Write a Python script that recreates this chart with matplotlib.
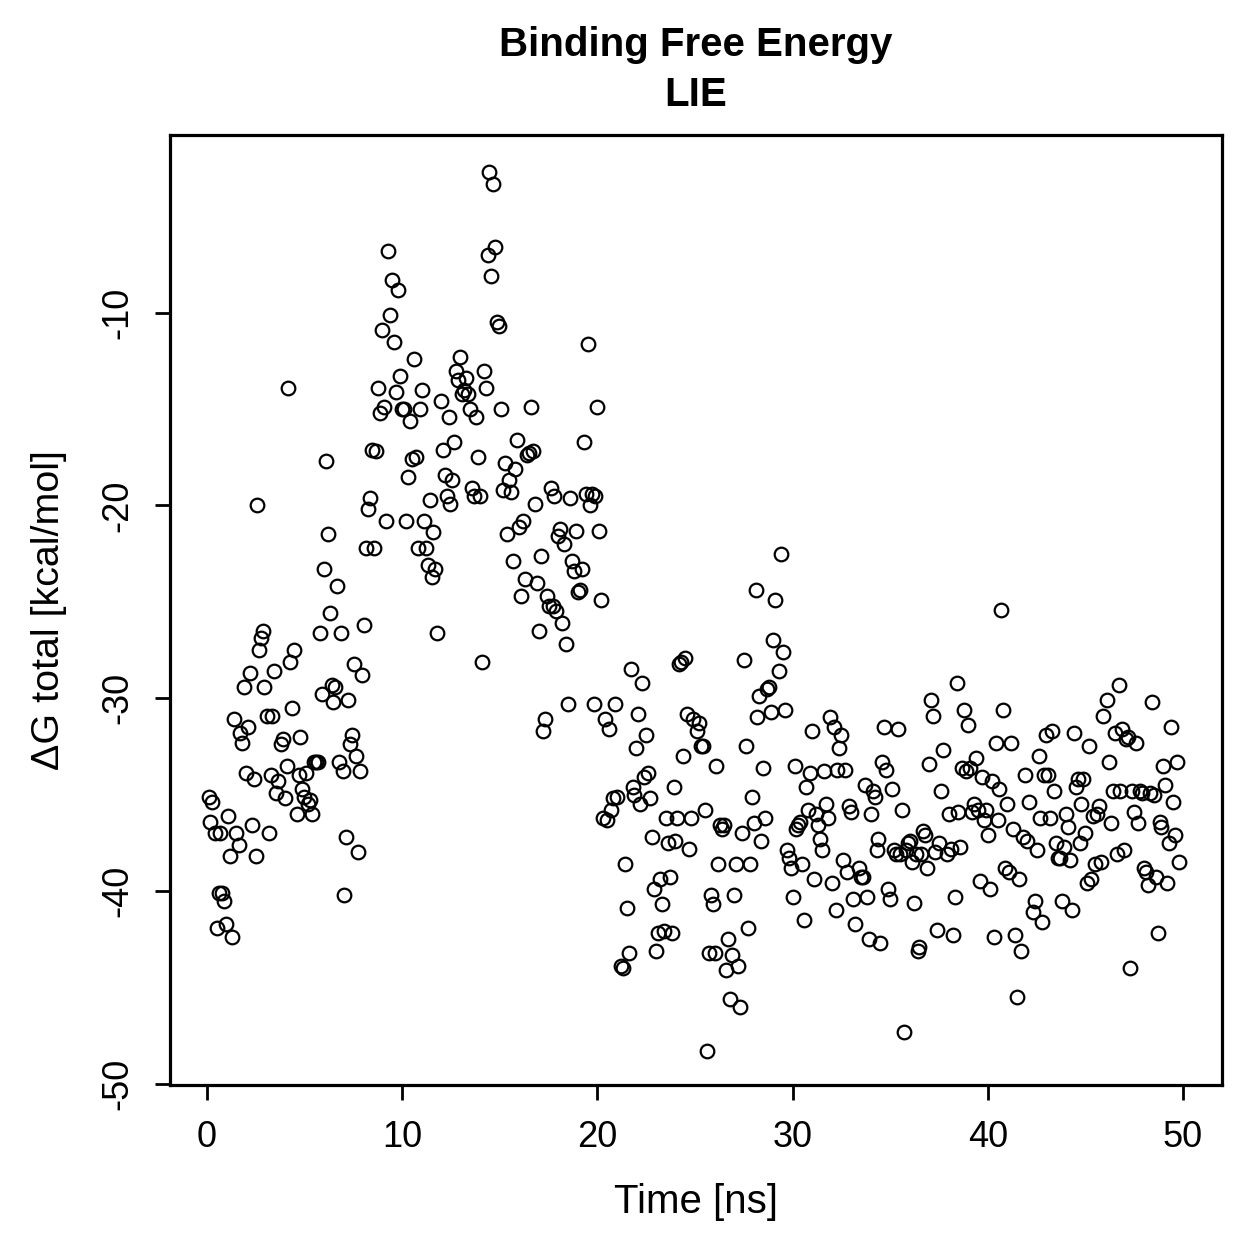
import matplotlib
matplotlib.use('Agg')
import matplotlib.pyplot as plt

# LIE binding free energy over simulation time
time_ns = [
    0.1, 0.26, 0.15, 0.4, 0.5, 0.6, 0.77, 0.87, 0.67, 1.08, 0.97, 1.18, 1.28, 1.38, 1.48, 1.64, 1.69, 1.79, 1.9, 2.0,
    2.1, 2.2, 2.3, 2.41, 2.5, 2.56, 2.66, 2.77, 2.87, 2.92, 3.07, 3.18, 3.28, 3.33, 3.43, 3.54, 3.64, 3.79, 3.89, 3.99,
    4.1, 4.15, 4.25, 4.35, 4.46, 4.61, 4.71, 4.76, 4.87, 4.97,
    5.07, 5.17, 5.28, 5.38, 5.48, 5.58, 5.69, 5.79, 5.89, 5.99, 6.1, 6.2, 6.3, 6.4, 6.45, 6.56, 6.66, 6.76, 6.87, 6.97,
    7.02, 7.12, 7.22, 7.33, 7.43, 7.53, 7.63, 7.74, 7.84, 7.94, 8.04, 8.15, 8.25, 8.35, 8.45, 8.56, 8.66, 8.76, 8.86, 8.97,
    9.07, 9.17, 9.27, 9.38, 9.48, 9.58, 9.68, 9.78, 9.89, 9.99,
    10.1, 10.2, 10.3, 10.4, 10.5, 10.6, 10.7, 10.8, 10.9, 11.0, 11.1, 11.2, 11.3, 11.4, 11.5, 11.6, 11.7, 11.8, 12.0, 12.1,
    12.2, 12.3, 12.4, 12.45, 12.55, 12.65, 12.75, 12.86, 12.96, 13.06, 13.17, 13.27, 13.37, 13.47, 13.58, 13.68, 13.78, 13.88, 13.99, 14.09,
    14.19, 14.29, 14.4, 14.45, 14.55, 14.65, 14.75, 14.86, 14.96,
    15.06, 15.16, 15.27, 15.37, 15.47, 15.57, 15.67, 15.78, 15.88, 15.98, 16.09, 16.19, 16.29, 16.39, 16.5, 16.6, 16.7, 16.8, 16.9, 17.0,
    17.1, 17.2, 17.3, 17.4, 17.5, 17.6, 17.7, 17.8, 17.9, 18.0, 18.1, 18.2, 18.3, 18.4, 18.5, 18.6, 18.7, 18.8, 18.9, 19.0,
    19.1, 19.2, 19.3, 19.4, 19.5, 19.6, 19.7, 19.8, 19.9, 20.0,
    20.1, 20.2, 20.3, 20.4, 20.5, 20.6, 20.7, 20.8, 20.9, 21.0, 21.2, 21.3, 21.4, 21.5, 21.6, 21.7, 21.8, 21.9, 22.0, 22.1,
    22.2, 22.3, 22.4, 22.5, 22.6, 22.7, 22.8, 22.9, 23.0, 23.1, 23.2, 23.3, 23.4, 23.5, 23.6, 23.7, 23.8, 23.9, 24.0, 24.1,
    24.2, 24.3, 24.4, 24.5, 24.6, 24.7, 24.8, 24.9, 25.1, 25.2, 25.3,
    25.4, 25.5, 25.6, 25.7, 25.8, 25.9, 26.0, 26.1, 26.2, 26.3, 26.4, 26.5, 26.6, 26.7, 26.8, 26.9, 27.0, 27.1, 27.2, 27.3,
    27.4, 27.5, 27.6, 27.7, 27.8, 27.9, 28.0, 28.1, 28.2, 28.3, 28.4, 28.5, 28.6, 28.7, 28.8, 28.9, 29.0, 29.1, 29.3, 29.4,
    29.5, 29.6, 29.7, 29.8, 29.9, 30.0, 30.1, 30.2, 30.3, 30.4,
    30.5, 30.6, 30.7, 30.8, 30.9, 31.0, 31.1, 31.2, 31.3, 31.4, 31.5, 31.6, 31.7, 31.8, 31.9, 32.0, 32.1, 32.2, 32.3, 32.4,
    32.5, 32.6, 32.7, 32.8, 32.9, 33.0, 33.1, 33.2, 33.4, 33.5, 33.6, 33.7, 33.8, 33.9, 34.0, 34.1, 34.2, 34.3, 34.4, 34.5,
    34.6, 34.7, 34.8, 34.9, 35.0, 35.1, 35.2, 35.3, 35.4, 35.5,
    35.6, 35.7, 35.8, 35.9, 36.0, 36.1, 36.2, 36.3, 36.4, 36.5, 36.6, 36.7, 36.8, 36.9, 37.0, 37.1, 37.2, 37.3, 37.4, 37.5,
    37.6, 37.7, 37.9, 38.0, 38.1, 38.2, 38.3, 38.4, 38.5, 38.6, 38.7, 38.8, 38.9, 39.0, 39.1, 39.2, 39.3, 39.4, 39.5, 39.6,
    39.7, 39.8, 39.9, 40.0, 40.1, 40.2, 40.3, 40.4, 40.5,
    40.6, 40.7, 40.8, 40.9, 41.0, 41.1, 41.2, 41.3, 41.4, 41.5, 41.6, 41.7, 41.8, 41.9, 42.0, 42.1, 42.3, 42.4, 42.5, 42.6,
    42.7, 42.8, 42.9, 43.0, 43.1, 43.2, 43.3, 43.4, 43.5, 43.6, 43.7, 43.8, 43.9, 44.0, 44.1, 44.2, 44.3, 44.4, 44.5, 44.6,
    44.7, 44.8, 44.9, 45.0, 45.1,
    45.2, 45.3, 45.4, 45.5, 45.6, 45.7, 45.8, 45.9, 46.1, 46.2, 46.3, 46.4, 46.5, 46.6, 46.7, 46.8, 46.9, 47.0, 47.1, 47.2,
    47.3, 47.4, 47.5, 47.6, 47.7, 47.8, 47.9, 48.0, 48.1, 48.2, 48.3, 48.4, 48.5, 48.6, 48.7, 48.8, 48.9, 49.0, 49.1, 49.2,
    49.3, 49.4, 49.5, 49.6, 49.7, 49.8,
]

dg_total = [
    -35.1, -35.4, -36.4, -37.0, -41.9, -40.1, -40.1, -40.5, -37.0, -36.1, -41.7, -38.2, -42.4, -31.1, -37.0, -37.6, -31.8, -32.3, -29.4, -33.9,
    -31.5, -28.7, -36.6, -34.2, -38.2, -20.0, -27.5, -26.9, -26.5, -29.4, -30.9, -37.0, -34.0, -30.9, -28.6, -34.9, -34.3, -32.4, -32.1, -35.2,
    -33.5, -13.9, -28.1, -30.5, -27.5, -36.0, -34.0, -32.0, -34.7, -35.1,
    -33.9, -35.5, -35.3, -36.0, -33.3, -33.3, -33.3, -26.6, -29.8, -23.3, -17.7, -21.5, -25.6, -29.3, -30.2, -29.4, -24.2, -33.3, -26.6, -33.8,
    -40.2, -37.2, -30.1, -32.4, -31.9, -28.2, -33.0, -38.0, -33.8, -28.8, -26.2, -22.2, -20.2, -19.6, -17.1, -22.2, -17.2, -13.9, -15.2, -10.9,
    -14.9, -20.8, -6.8, -10.1, -8.3, -11.5, -14.1, -8.8, -13.3, -15.0,
    -15.0, -20.8, -18.5, -15.6, -17.6, -12.4, -17.5, -22.2, -15.0, -14.0, -20.8, -22.2, -23.1, -19.7, -23.7, -21.4, -23.3, -26.6, -14.6, -17.1,
    -18.4, -19.5, -15.4, -19.9, -18.7, -16.7, -13.0, -13.5, -12.3, -14.2, -14.0, -13.4, -14.2, -15.0, -19.1, -19.5, -15.4, -17.5, -19.5, -28.1,
    -13.0, -13.9, -7.0, -2.7, -8.1, -3.3, -6.6, -10.5, -10.7,
    -15.0, -19.2, -17.8, -21.5, -18.7, -19.3, -22.9, -18.1, -16.6, -21.1, -24.7, -20.8, -23.8, -17.4, -17.3, -14.9, -17.2, -19.9, -24.0, -26.5,
    -22.6, -31.7, -31.1, -24.7, -25.2, -19.1, -25.2, -19.5, -25.5, -21.6, -21.2, -26.1, -22.0, -27.2, -30.3, -19.6, -22.9, -23.4, -21.3, -24.5,
    -24.4, -23.3, -16.7, -19.4, -11.6, -20.0, -19.4, -30.3, -19.5, -14.9,
    -21.3, -24.9, -36.2, -31.1, -36.3, -31.6, -35.8, -35.2, -30.3, -35.1, -43.9, -44.0, -38.6, -40.9, -43.2, -28.5, -34.6, -35.0, -32.6, -30.8,
    -35.5, -29.2, -34.1, -31.9, -33.9, -35.2, -37.2, -39.9, -43.1, -42.2, -39.4, -40.7, -42.1, -36.2, -37.5, -39.3, -42.2, -34.6, -37.4, -36.2,
    -28.2, -28.1, -33.0, -27.9, -30.8, -37.8, -36.2, -31.1, -31.7, -31.3, -32.5,
    -32.5, -35.8, -48.3, -43.2, -40.2, -40.7, -43.2, -33.5, -38.6, -36.6, -36.8, -36.6, -44.1, -42.5, -45.6, -43.3, -40.2, -38.6, -43.9, -46.0,
    -37.0, -28.0, -32.5, -41.9, -38.6, -35.1, -36.5, -24.4, -31.0, -29.9, -37.4, -33.6, -36.2, -29.5, -29.4, -30.7, -27.0, -24.9, -28.6, -22.5,
    -27.6, -30.6, -37.9, -38.3, -38.8, -40.3, -33.5, -36.8, -36.6, -36.4,
    -38.6, -41.5, -34.6, -35.8, -33.9, -31.7, -39.4, -36.0, -36.6, -37.3, -37.9, -33.8, -35.5, -36.2, -31.0, -39.6, -31.5, -41.0, -33.7, -32.6,
    -31.9, -38.4, -33.7, -39.0, -35.6, -35.9, -40.4, -41.7, -38.8, -39.3, -39.3, -34.5, -40.3, -42.5, -36.0, -34.8, -35.1, -37.9, -37.3, -42.7,
    -33.3, -31.5, -33.7, -39.9, -40.4, -34.7, -37.9, -38.1, -31.6, -38.1,
    -35.8, -47.3, -37.9, -37.5, -37.4, -38.5, -40.6, -38.1, -43.1, -42.9, -38.1, -36.9, -37.1, -38.8, -33.4, -30.1, -30.9, -38.0, -42.0, -37.5,
    -34.8, -32.7, -38.1, -36.0, -37.8, -42.3, -40.3, -29.2, -35.9, -37.7, -33.6, -30.6, -33.8, -31.4, -33.6, -35.9, -35.5, -33.1, -35.8, -39.5,
    -34.1, -36.3, -35.8, -37.1, -39.9, -34.3, -42.4, -32.3, -36.3,
    -34.7, -25.4, -30.6, -38.8, -35.5, -39.0, -32.3, -36.8, -42.3, -45.5, -39.4, -43.1, -37.2, -34.0, -37.4, -35.4, -41.1, -40.5, -37.9, -33.0,
    -36.2, -41.6, -34.0, -31.9, -34.0, -36.2, -31.7, -34.8, -37.5, -38.3, -38.3, -40.5, -37.7, -36.0, -36.7, -38.4, -41.0, -31.8, -34.6, -34.2,
    -37.5, -35.5, -34.2, -37.0, -39.6,
    -32.5, -39.4, -36.1, -38.6, -36.0, -35.6, -38.5, -30.9, -30.1, -33.3, -36.5, -34.8, -31.8, -38.1, -29.3, -34.8, -31.6, -37.9, -32.1, -32.0,
    -44.0, -34.8, -35.9, -32.3, -36.5, -34.8, -34.9, -38.8, -39.0, -39.7, -34.9, -30.2, -35.0, -39.3, -42.2, -36.4, -36.7, -33.5, -34.5, -39.6,
    -37.5, -31.5, -35.4, -37.1, -33.3, -38.5,
]

xticks = [0, 10, 20, 30, 40, 50]
yticks = [-50, -40, -30, -20, -10]

plt.rcParams['font.family'] = ['Liberation Sans', 'DejaVu Sans']

fig = plt.figure(figsize=(6.295, 6.295), dpi=200)
ax = fig.add_axes([0.135, 0.138, 0.8356, 0.7548])

ax.plot(time_ns, dg_total, linestyle='none', marker='o', markersize=4.9,
        markerfacecolor='none', markeredgecolor='black', markeredgewidth=0.8)

ax.set_xlim(-1.9, 52.0)
ax.set_ylim(-50.08, -0.78)
ax.set_xticks(xticks)
ax.set_yticks(yticks)
ax.set_yticklabels([str(t) for t in yticks], rotation=90, va='center')
ax.tick_params(axis='both', direction='out', length=5.5, width=1.0, labelsize=13, pad=7, color='black')
for s in ax.spines.values():
    s.set_linewidth(1.15)

ax.set_xlabel('Time [ns]', fontsize=14.5, labelpad=10)
ax.set_ylabel('\u0394G total [kcal/mol]', fontsize=14.2, labelpad=12)

# two-line bold title, centred over the plot box
fig.text(0.5529, 1 - 45 / 1259, 'Binding Free Energy', ha='center', va='center',
         fontsize=14.5, fontweight='bold')
fig.text(0.5529, 1 - 95 / 1259, 'LIE', ha='center', va='center',
         fontsize=14.5, fontweight='bold')

fig.savefig('out.png', dpi=200)
